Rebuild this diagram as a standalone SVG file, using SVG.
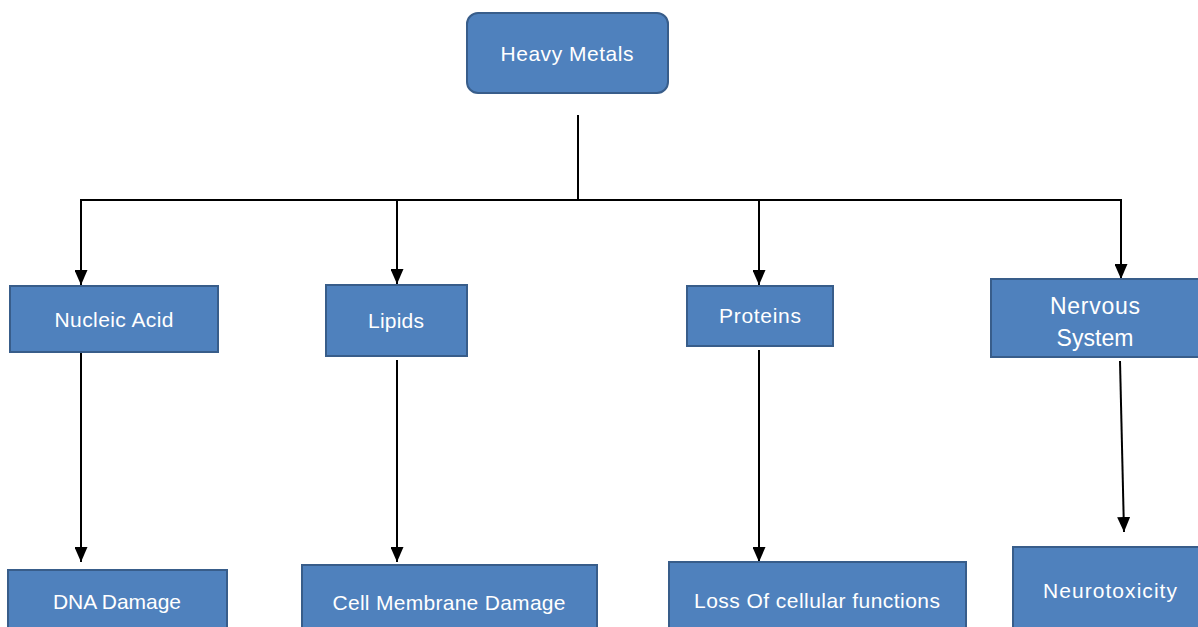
<svg xmlns="http://www.w3.org/2000/svg" width="1198" height="627" viewBox="0 0 1198 627">
<style>
.box{fill:#4F81BD;stroke:#385D8A;stroke-width:2}
.lbl{fill:#FFFFFF;font-family:"Liberation Sans",Arial,sans-serif;font-size:21px;text-anchor:middle}
.big{font-size:23px}
.conn{stroke:#000;stroke-width:2;fill:none}
.arr{stroke:#000;stroke-width:2;fill:none;marker-end:url(#ah)}
</style>
<defs>
<marker id="ah" markerWidth="15" markerHeight="13" refX="15" refY="6.5" orient="auto" markerUnits="userSpaceOnUse" viewBox="0 0 15 13">
<path d="M0,0 L15,6.5 L0,13 Z" fill="#000"/>
</marker>
</defs>
<rect width="1198" height="627" fill="#FFFFFF"/>
<g id="connectors">
<line class="conn" x1="578" y1="115" x2="578" y2="200"/>
<line class="conn" x1="80" y1="200" x2="1122" y2="200"/>
<line class="arr" x1="81" y1="200" x2="81" y2="285"/>
<line class="arr" x1="397" y1="200" x2="397" y2="284"/>
<line class="arr" x1="759" y1="200" x2="759" y2="285"/>
<line class="arr" x1="1121" y1="200" x2="1121" y2="279"/>
<line class="arr" x1="81" y1="352" x2="81" y2="562"/>
<line class="arr" x1="397" y1="360" x2="397" y2="562"/>
<line class="arr" x1="759" y1="350" x2="759" y2="562"/>
<line class="arr" x1="1120" y1="361" x2="1124" y2="532"/>
</g>
<g id="heavy-metals">
<rect class="box" x="467" y="13" width="201" height="80" rx="11"/>
<text class="lbl" x="567" y="61" textLength="133">Heavy Metals</text>
</g>
<g id="nucleic-acid">
<rect class="box" x="10" y="286" width="208" height="66"/>
<text class="lbl" x="114" y="327" textLength="119">Nucleic Acid</text>
</g>
<g id="lipids">
<rect class="box" x="326" y="285" width="141" height="71"/>
<text class="lbl" x="396" y="328" textLength="56">Lipids</text>
</g>
<g id="proteins">
<rect class="box" x="687" y="286" width="146" height="60"/>
<text class="lbl" x="760" y="323" textLength="82">Proteins</text>
</g>
<g id="nervous-system">
<rect class="box" x="991" y="279" width="210" height="78"/>
<text class="lbl big" x="1095" y="314" textLength="90">Nervous</text>
<text class="lbl big" x="1095" y="346" textLength="77">System</text>
</g>
<g id="dna-damage">
<rect class="box" x="8" y="570" width="219" height="62"/>
<text class="lbl" x="117" y="609" textLength="128">DNA Damage</text>
</g>
<g id="cell-membrane-damage">
<rect class="box" x="302" y="565" width="295" height="67"/>
<text class="lbl" x="449" y="610" textLength="233">Cell Membrane Damage</text>
</g>
<g id="loss-of-cellular-functions">
<rect class="box" x="669" y="562" width="297" height="70"/>
<text class="lbl" x="817" y="608" textLength="246">Loss Of cellular functions</text>
</g>
<g id="neurotoxicity">
<rect class="box" x="1013" y="547" width="190" height="85"/>
<text class="lbl" x="1110" y="598" textLength="134">Neurotoxicity</text>
</g>
</svg>
